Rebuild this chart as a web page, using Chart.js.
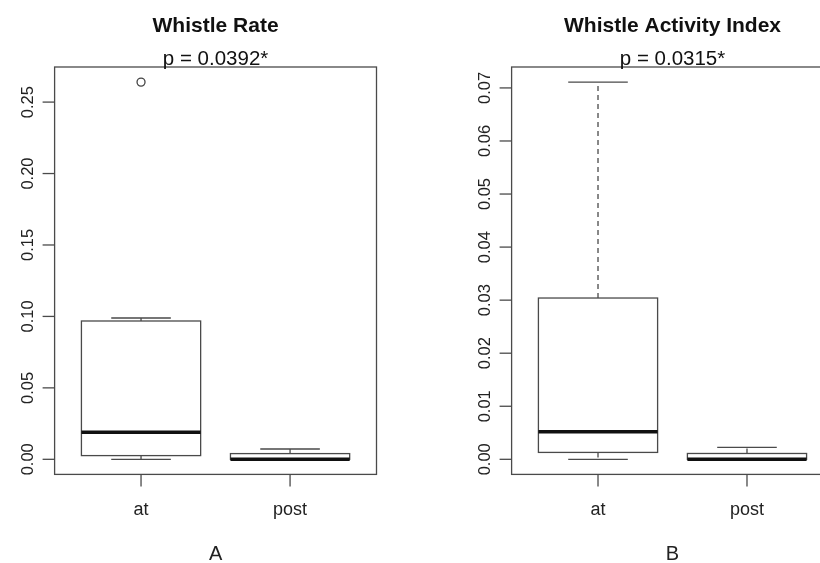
<!DOCTYPE html>
<html>
<head>
<meta charset="utf-8">
<script src="https://cdn.jsdelivr.net/npm/chart.js@4/dist/chart.umd.min.js"></script>
<style>
  html, body { margin: 0; padding: 0; background: #fff; }
  body { width: 820px; height: 563px; overflow: hidden; position: relative; }
  canvas { position: absolute; top: 0; }
  #rateChart { left: 0; }
  #activityChart { left: 410px; }
</style>
</head>
<body>
<canvas id="rateChart" width="410" height="563"></canvas>
<canvas id="activityChart" width="440" height="563"></canvas>
<script>
// Groups on the x axis
const groups = ['at', 'post'];

// Whistle rate: five-number box statistics per group, plus outliers
const rateLower  = [0.0000, 0.0000];
const rateQ1     = [0.0026, 0.0000];
const rateMedian = [0.0189, 0.0000];
const rateQ3     = [0.0968, 0.0040];
const rateUpper  = [0.0989, 0.0072];
const rateOutliers = [[0.264], []];
const rateTicks  = [0.00, 0.05, 0.10, 0.15, 0.20, 0.25];

// Whistle activity index: five-number box statistics per group
const activityLower  = [0.0000, 0.0000];
const activityQ1     = [0.0013, 0.0000];
const activityMedian = [0.0052, 0.0000];
const activityQ3     = [0.0304, 0.0011];
const activityUpper  = [0.0711, 0.00226];
const activityOutliers = [[], []];
const activityTicks  = [0.00, 0.01, 0.02, 0.03, 0.04, 0.05, 0.06, 0.07];

const FONT = '"Liberation Sans", Arial, Helvetica, sans-serif';
const LINE = '#4a4a4a';

// Base-graphics style boxplot: boxes, whiskers, frame, axes and titles
const boxplotPlugin = {
  id: 'boxplotR',
  beforeDatasetsDraw(chart) {
    const o = chart.options.plugins.boxplotR;
    const xs = chart.scales.x, ys = chart.scales.y, ctx = chart.ctx;
    ctx.save();
    o.groups.forEach((g, i) => {
      const pos = i + 1;
      const cx = xs.getPixelForValue(pos);
      const bl = xs.getPixelForValue(pos - 0.4), br = xs.getPixelForValue(pos + 0.4);
      const sl = xs.getPixelForValue(pos - 0.2), sr = xs.getPixelForValue(pos + 0.2);
      const yLo = ys.getPixelForValue(o.lower[i]);
      const yQ1 = ys.getPixelForValue(o.q1[i]);
      const yMd = ys.getPixelForValue(o.median[i]);
      const yQ3 = ys.getPixelForValue(o.q3[i]);
      const yUp = ys.getPixelForValue(o.upper[i]);
      ctx.strokeStyle = LINE;
      ctx.lineWidth = 1.3;
      // dashed whiskers
      ctx.setLineDash([5, 4]);
      ctx.beginPath();
      ctx.moveTo(cx, yQ3); ctx.lineTo(cx, yUp);
      ctx.moveTo(cx, yQ1); ctx.lineTo(cx, yLo);
      ctx.stroke();
      ctx.setLineDash([]);
      // staples
      ctx.beginPath();
      ctx.moveTo(sl, yUp); ctx.lineTo(sr, yUp);
      ctx.moveTo(sl, yLo); ctx.lineTo(sr, yLo);
      ctx.stroke();
      // box
      ctx.fillStyle = '#fff';
      ctx.fillRect(bl, yQ3, br - bl, yQ1 - yQ3);
      ctx.strokeRect(bl, yQ3, br - bl, yQ1 - yQ3);
      // median
      ctx.strokeStyle = '#111';
      ctx.lineWidth = 3.5;
      ctx.beginPath();
      ctx.moveTo(bl, yMd); ctx.lineTo(br, yMd);
      ctx.stroke();
    });
    ctx.restore();
  },
  afterDraw(chart) {
    const o = chart.options.plugins.boxplotR;
    const xs = chart.scales.x, ys = chart.scales.y, ctx = chart.ctx;
    const a = chart.chartArea;
    const midX = (a.left + a.right) / 2;
    ctx.save();
    // frame
    ctx.strokeStyle = LINE;
    ctx.lineWidth = 1.3;
    ctx.strokeRect(a.left, a.top, a.right - a.left, a.bottom - a.top);
    // y axis ticks and rotated labels
    ctx.fillStyle = '#222';
    ctx.font = '16.5px ' + FONT;
    o.ticks.forEach(t => {
      const y = ys.getPixelForValue(t);
      ctx.beginPath();
      ctx.moveTo(a.left - 12, y); ctx.lineTo(a.left, y);
      ctx.stroke();
      ctx.save();
      ctx.translate(a.left - 22, y);
      ctx.rotate(-Math.PI / 2);
      ctx.textAlign = 'center';
      ctx.textBaseline = 'alphabetic';
      ctx.fillText(t.toFixed(2), 0, 0);
      ctx.restore();
    });
    // x axis ticks and group labels
    ctx.font = '18px ' + FONT;
    ctx.textAlign = 'center';
    ctx.textBaseline = 'alphabetic';
    o.groups.forEach((g, i) => {
      const x = xs.getPixelForValue(i + 1);
      ctx.beginPath();
      ctx.moveTo(x, a.bottom); ctx.lineTo(x, a.bottom + 12);
      ctx.stroke();
      ctx.fillText(g, x, a.bottom + 41);
    });
    // panel letter
    ctx.font = '20px ' + FONT;
    ctx.fillText(o.letter, midX, 560);
    // title and p-value
    ctx.fillStyle = '#111';
    ctx.font = 'bold 21px ' + FONT;
    ctx.fillText(o.title, midX, 32);
    ctx.font = '20.5px ' + FONT;
    ctx.fillText(o.subtitle, midX, 65);
    ctx.restore();
  }
};

function yBounds(lower, upper, outliers) {
  const vals = lower.concat(upper, ...outliers);
  const lo = Math.min(...vals), hi = Math.max(...vals);
  const pad = 0.04 * (hi - lo);
  return { min: lo - pad, max: hi + pad };
}

function makePanel(id, padding, p) {
  const b = yBounds(p.lower, p.upper, p.outliers);
  const outlierPoints = [];
  p.outliers.forEach((list, i) => list.forEach(v => outlierPoints.push({ x: i + 1, y: v })));
  return new Chart(document.getElementById(id), {
    type: 'scatter',
    data: {
      datasets: [{
        data: outlierPoints,
        pointStyle: 'circle',
        pointRadius: 4,
        pointBorderWidth: 1.3,
        pointBorderColor: '#444',
        pointBackgroundColor: 'rgba(0,0,0,0)'
      }]
    },
    options: {
      responsive: false,
      animation: false,
      events: [],
      layout: { padding: padding },
      scales: {
        x: { type: 'linear', min: 0.42, max: 2.58, display: false },
        y: { type: 'linear', min: b.min, max: b.max, display: false }
      },
      plugins: {
        legend: { display: false },
        tooltip: { enabled: false },
        boxplotR: {
          groups: groups,
          lower: p.lower, q1: p.q1, median: p.median, q3: p.q3, upper: p.upper,
          ticks: p.ticks, title: p.title, subtitle: p.subtitle, letter: p.letter
        }
      }
    },
    plugins: [boxplotPlugin]
  });
}

makePanel('rateChart', { left: 54.6, right: 33.5, top: 67, bottom: 88.6 }, {
  lower: rateLower, q1: rateQ1, median: rateMedian, q3: rateQ3, upper: rateUpper,
  outliers: rateOutliers, ticks: rateTicks,
  title: 'Whistle Rate', subtitle: 'p = 0.0392*', letter: 'A'
});

makePanel('activityChart', { left: 101.6, right: 16.6, top: 67, bottom: 88.6 }, {
  lower: activityLower, q1: activityQ1, median: activityMedian, q3: activityQ3, upper: activityUpper,
  outliers: activityOutliers, ticks: activityTicks,
  title: 'Whistle Activity Index', subtitle: 'p = 0.0315*', letter: 'B'
});
</script>
</body>
</html>
